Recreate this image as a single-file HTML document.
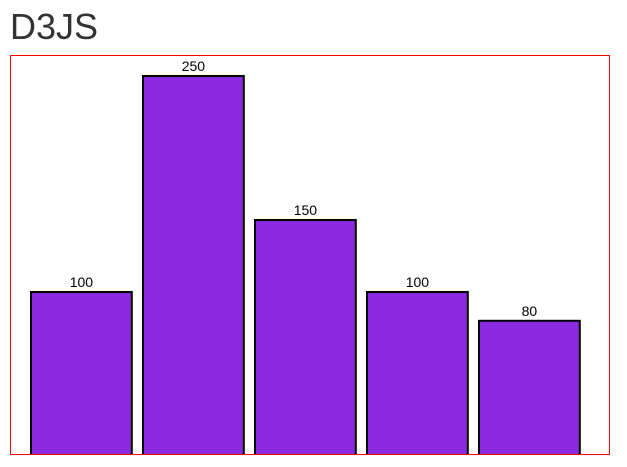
<!DOCTYPE html>
<html lang="en">
<head>
<meta charset="utf-8">
<title>D3JS</title>
<style>
html,body{margin:0;padding:0;background:#fff;width:627px;height:467px;overflow:hidden;font-family:"Liberation Sans",sans-serif;}
h1{position:absolute;left:10px;top:7px;margin:0;font-size:36px;line-height:40px;font-weight:400;color:#333;}
#chart{position:absolute;left:10px;top:55px;width:600px;height:400px;box-sizing:border-box;border:1px solid #f00;display:block;background:#fff;}
#chart text{font-family:"Liberation Sans",sans-serif;font-size:14px;fill:#000;text-anchor:middle;}
</style>
</head>
<body>
<h1>D3JS</h1>
<svg id="chart" xmlns="http://www.w3.org/2000/svg"></svg>
<script>
const categories = ['a', 'b', 'c', 'd', 'e'];
const values = [100, 250, 150, 100, 80];

const NS = 'http://www.w3.org/2000/svg';
const svg = document.getElementById('chart');
const innerHeight = 398;

function xScale(i) { return 20 + i * 112; }
const bandWidth = 100.8;
function yScale(v) { return 380 - 1.44 * v; }

values.forEach(function (v, i) {
  const rect = document.createElementNS(NS, 'rect');
  
  
  rect.setAttribute('x', xScale(i));
  rect.setAttribute('y', yScale(v));
  rect.setAttribute('width', bandWidth);
  rect.setAttribute('height', innerHeight + 10 - yScale(v));
  rect.setAttribute('fill', '#8a2be2');
  rect.setAttribute('stroke', '#000');
  rect.setAttribute('stroke-width', '2');
  svg.appendChild(rect);

  const label = document.createElementNS(NS, 'text');
  
  
  label.setAttribute('x', xScale(i) + bandWidth / 2);
  label.setAttribute('y', yScale(v) - 5);
  label.textContent = String(v);
  svg.appendChild(label);
});
</script>
</body>
</html>
